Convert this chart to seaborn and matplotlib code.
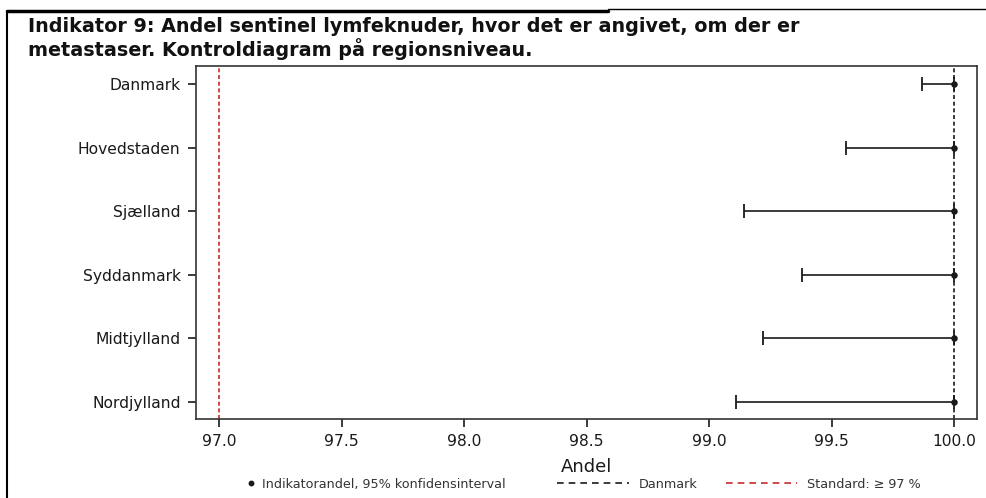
import matplotlib
matplotlib.use("Agg")
import matplotlib.pyplot as plt
from matplotlib.lines import Line2D
import numpy as np
import pandas as pd
import seaborn as sns

# Indicator 9 data per region
regions = ["Danmark", "Hovedstaden", "Sjælland", "Syddanmark", "Midtjylland", "Nordjylland"]
andel = [100.0, 100.0, 100.0, 100.0, 100.0, 100.0]
ci_lower = [99.87, 99.56, 99.14, 99.38, 99.22, 99.11]
ci_upper = [100.0, 100.0, 100.0, 100.0, 100.0, 100.0]
danmark_level = 100.0
standard_level = 97.0
xticks = [97.0, 97.5, 98.0, 98.5, 99.0, 99.5, 100.0]

df = pd.DataFrame({"region": regions, "andel": andel,
                   "lo": ci_lower, "hi": ci_upper})

sns.set_theme(style="ticks")
plt.rcParams["font.family"] = ["DejaVu Sans"]

W, H = 987, 498
fig = plt.figure(figsize=(W / 100, H / 100), dpi=100)
ax = fig.add_axes([196 / W, 1 - 419 / H, (977 - 196) / W, (419 - 66) / H])

ink = "#1a1a1a"
red = "#cc2a2a"
plot_dash = (0, (2.4, 1.6))
legend_dash = (0, (4, 3))

# reference lines
ax.axvline(standard_level, color=red, lw=1.2, ls=plot_dash, zorder=1)
ax.axvline(danmark_level, color=ink, lw=1.2, ls=plot_dash, zorder=1)

# confidence intervals
ypos = np.arange(len(df))
ax.errorbar(df["andel"], ypos,
            xerr=[df["andel"] - df["lo"], df["hi"] - df["andel"]],
            fmt="none", ecolor=ink, elinewidth=1.2, capsize=5, capthick=1.3, zorder=2)

# indicator proportions
sns.scatterplot(data=df, x="andel", y=ypos, ax=ax, color=ink, s=22,
                edgecolor=ink, linewidth=0, zorder=3, legend=False)

ax.set_xlim(96.905, 100.093)
ax.set_ylim(len(df) - 1 + 0.267, -0.283)
ax.set_yticks(ypos)
ax.set_yticklabels(regions)
ax.set_xticks(xticks)
ax.set_xticklabels([f"{v:.1f}" for v in xticks])
ax.set_xlabel("Andel", fontsize=13, color=ink, labelpad=6)
ax.set_ylabel("")
ax.tick_params(axis="y", labelsize=11.2, colors=ink, length=6, width=1.2, pad=5)
ax.tick_params(axis="x", labelsize=11.2, colors=ink, length=6, width=1.2, pad=5)
for s in ax.spines.values():
    s.set_visible(True)
    s.set_linewidth(1.2)
    s.set_color("#333333")

# title
fig.text(28 / W, 1 - 26 / H, "Indikator 9: Andel sentinel lymfeknuder, hvor det er angivet, om der er",
         fontsize=13.8, fontweight="bold", color="#111111", va="center", ha="left")
fig.text(28 / W, 1 - 49 / H, "metastaser. Kontroldiagram på regionsniveau.",
         fontsize=13.8, fontweight="bold", color="#111111", va="center", ha="left")

# page frame lines
fig.add_artist(Line2D([7 / W, 608 / W], [1 - 11 / H, 1 - 11 / H], color="black", lw=2.5))
fig.add_artist(Line2D([608 / W, 1.0], [1 - 9 / H, 1 - 9 / H], color="black", lw=1.0))
fig.add_artist(Line2D([7 / W, 7 / W], [0, 1 - 11 / H], color="black", lw=1.5))

# legend: marker entry and reference line entries
leg_y = 1 - 484 / H
leg_kw = dict(frameon=False, fontsize=9.2, labelcolor="#333333",
              borderpad=0, borderaxespad=0)
dot_handle = [Line2D([], [], color=ink, marker="o", markersize=3.2, ls="none")]
fig.legend(dot_handle, ["Indikatorandel, 95% konfidensinterval"],
           loc="center left", bbox_to_anchor=(246 / W, leg_y),
           handlelength=0.8, handletextpad=0.45, **leg_kw)
line_handles = [
    Line2D([], [], color=ink, lw=1.2, ls=legend_dash),
    Line2D([], [], color=red, lw=1.2, ls=legend_dash),
]
fig.legend(line_handles, ["Danmark", "Standard: ≥ 97 %"],
           loc="center left", bbox_to_anchor=(557 / W, leg_y), ncol=2,
           handlelength=5.6, handletextpad=0.8, columnspacing=2.2, **leg_kw)

fig.savefig("out.png", dpi=100)
